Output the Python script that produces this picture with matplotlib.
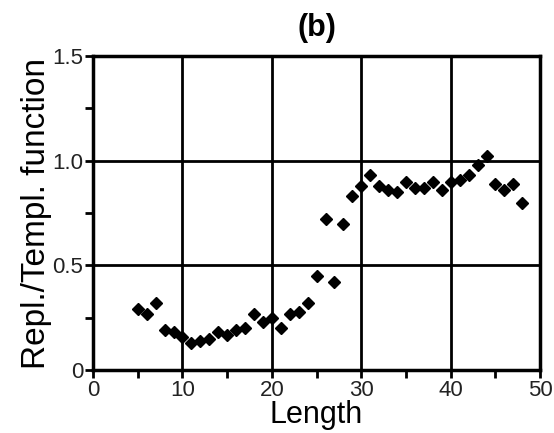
"""Repl./Templ. function versus length, panel (b)."""

import matplotlib

matplotlib.use("Agg")
import matplotlib.pyplot as plt
from matplotlib.ticker import MultipleLocator

plt.rcParams["font.family"] = ["Liberation Sans", "DejaVu Sans"]

# values
length = list(range(5, 49))
ratio = [
    0.29, 0.27, 0.32, 0.19, 0.18, 0.16, 0.13, 0.14, 0.15, 0.18,
    0.17, 0.19, 0.20, 0.27, 0.23, 0.25, 0.20, 0.27, 0.28, 0.32,
    0.45, 0.72, 0.42, 0.70, 0.83, 0.88, 0.93, 0.88, 0.86, 0.85,
    0.90, 0.87, 0.87, 0.90, 0.86, 0.90, 0.91, 0.93, 0.98, 1.02,
    0.89, 0.86, 0.89, 0.80,
]
x_ticks = [0, 10, 20, 30, 40, 50]
y_ticks = [0, 0.5, 1.0, 1.5]
y_tick_labels = ["0", "0.5", "1.0", "1.5"]

fig = plt.figure(figsize=(5.54, 4.33), dpi=100)
ax = fig.add_axes([0.168, 0.145, 0.807, 0.726])

ax.plot(length, ratio, linestyle="none", marker="D", markersize=6,
        color="black", zorder=3)

ax.set_xlim(0, 50)
ax.set_ylim(0, 1.5)
ax.set_xticks(x_ticks)
ax.set_yticks(y_ticks)
ax.set_yticklabels(y_tick_labels)
ax.xaxis.set_minor_locator(MultipleLocator(5))
ax.yaxis.set_minor_locator(MultipleLocator(0.25))
ax.tick_params(which="both", direction="out", width=2, length=6,
               labelsize=16, pad=1, labelcolor="#222222")

ax.grid(True, which="major", color="black", linewidth=2)
for spine in ax.spines.values():
    spine.set_linewidth(2.5)

ax.set_xlabel("Length", fontsize=22, labelpad=-1)
ax.set_ylabel("Repl./Templ. function", fontsize=24, labelpad=0)
ax.set_title("(b)", fontsize=22, fontweight="bold", pad=14)

fig.savefig("out.png", dpi=100)
